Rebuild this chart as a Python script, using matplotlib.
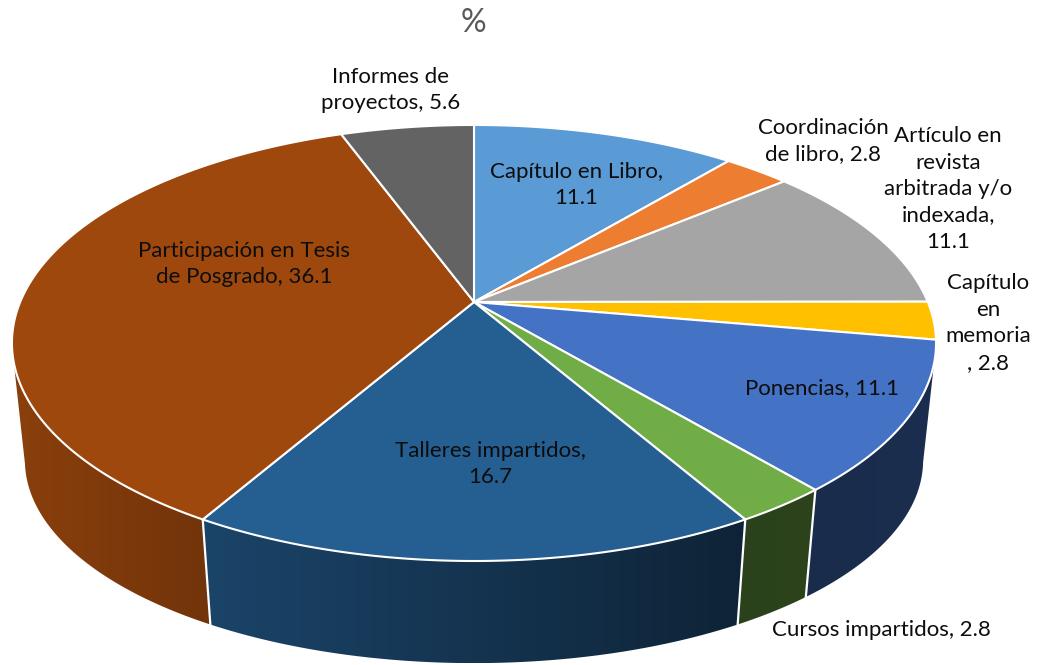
"""
3D looking pie chart of the percentage of academic products
"""
import numpy as np
import matplotlib.pyplot as plt
from matplotlib.colors import to_rgb
from matplotlib.patches import Polygon

categories = ["Capítulo en Libro", "Coordinación de libro", "Artículo en revista arbitrada y/o indexada",
              "Capítulo en memoria", "Ponencias", "Cursos impartidos", "Talleres impartidos",
              "Participación en Tesis de Posgrado", "Informes de proyectos"]
values = [11.1, 2.8, 11.1, 2.8, 11.1, 2.8, 16.7, 36.1, 5.6]
colors = ["#5B9BD5", "#ED7D31", "#A5A5A5", "#FFC000", "#4472C4", "#70AD47", "#255E91", "#9E480E", "#636363"]

# label text with its line breaks, and where it sits in the picture
label_texts = ["Capítulo en Libro,\n11.1", "Coordinación\nde libro, 2.8",
               "Artículo en\nrevista\narbitrada y/o\nindexada,\n11.1", "Capítulo\nen\nmemoria\n, 2.8",
               "Ponencias, 11.1", "Cursos impartidos, 2.8", "Talleres impartidos,\n16.7",
               "Participación en Tesis\nde Posgrado, 36.1", "Informes de\nproyectos, 5.6"]
label_x = [576, 823, 948, 988, 822, 881, 490, 244, 391]
label_y = [185, 141, 189, 323, 388, 630, 464, 264, 90]

# projection of the pie, in pixels
cx, cy = 474, 302
rx, ry, persp = 453.8, 210.3, 0.188


def top_point(theta):
    """unit circle (clockwise from 12 o'clock) to the top face of the pie"""
    x, y = np.sin(theta), np.cos(theta)
    return cx + rx * x / (1 + persp * y), cy - ry * y / (1 + persp * y)


def bottom_point(px, py):
    """top face point to the matching point on the lower rim"""
    return cx + 0.972 * (px - cx), 625 + 0.93 * (py - 520)


def wall_gradient(color, x0, x1):
    """one row image of the wall colour, going darker to the right"""
    xs = np.linspace(x0, x1, 256)
    f = np.interp(xs, [25, 210, 740, 925], [0.87, 0.72, 0.38, 0.40])
    return f[None, :, None] * np.array(to_rgb(color))[None, None, :]


plt.rcParams["font.family"] = ["Lato", "DejaVu Sans"]

fig = plt.figure(figsize=(10.37, 6.65), dpi=100)
ax = fig.add_axes([0, 0, 1, 1])
ax.axis("off")

edges = np.concatenate([[0], np.cumsum(values)]) / np.sum(values) * 2 * np.pi
rim_limit = 345

# walls first, the top face covers whatever is behind it
for i, color in enumerate(colors):
    theta = np.linspace(edges[i], edges[i + 1], 300)
    px, py = top_point(theta)
    keep = py >= rim_limit
    if keep.sum() < 2:
        continue
    px, py = px[keep], py[keep]
    lx, ly = bottom_point(px, py)
    outline = np.vstack([np.column_stack([px, py]), np.column_stack([lx, ly])[::-1]])
    wall = Polygon(outline, closed=True, facecolor="none", edgecolor="none", transform=ax.transData)
    ax.add_patch(wall)
    x0, x1 = outline[:, 0].min(), outline[:, 0].max()
    img = ax.imshow(wall_gradient(color, x0, x1), extent=[x0, x1, outline[:, 1].max(), outline[:, 1].min()],
                    aspect="auto", interpolation="bilinear", zorder=2)
    img.set_clip_path(wall)

ax.set_xlim(0, 1037)
ax.set_ylim(665, 0)

for edge in edges[:-1]:
    px, py = top_point(edge)
    lx, ly = bottom_point(px, py)
    if py > rim_limit + 5:
        ax.plot([px, lx], [py, ly], color="white", linewidth=1.6, zorder=3)

for i, color in enumerate(colors):
    theta = np.linspace(edges[i], edges[i + 1], 200)
    px, py = top_point(theta)
    points = np.vstack([[cx, cy], np.column_stack([px, py])])
    ax.add_patch(Polygon(points, closed=True, facecolor=color, edgecolor="white", linewidth=1.5,
                         joinstyle="round", zorder=4))

for text, x, y in zip(label_texts, label_x, label_y):
    ax.text(x, y, text, ha="center", va="center", fontsize=16, color="#0D0D0D", linespacing=1.4, zorder=5)

ax.text(473, 23, "%", ha="center", va="center", fontsize=23, color="#595959")

plt.savefig("out.png", dpi=100)
